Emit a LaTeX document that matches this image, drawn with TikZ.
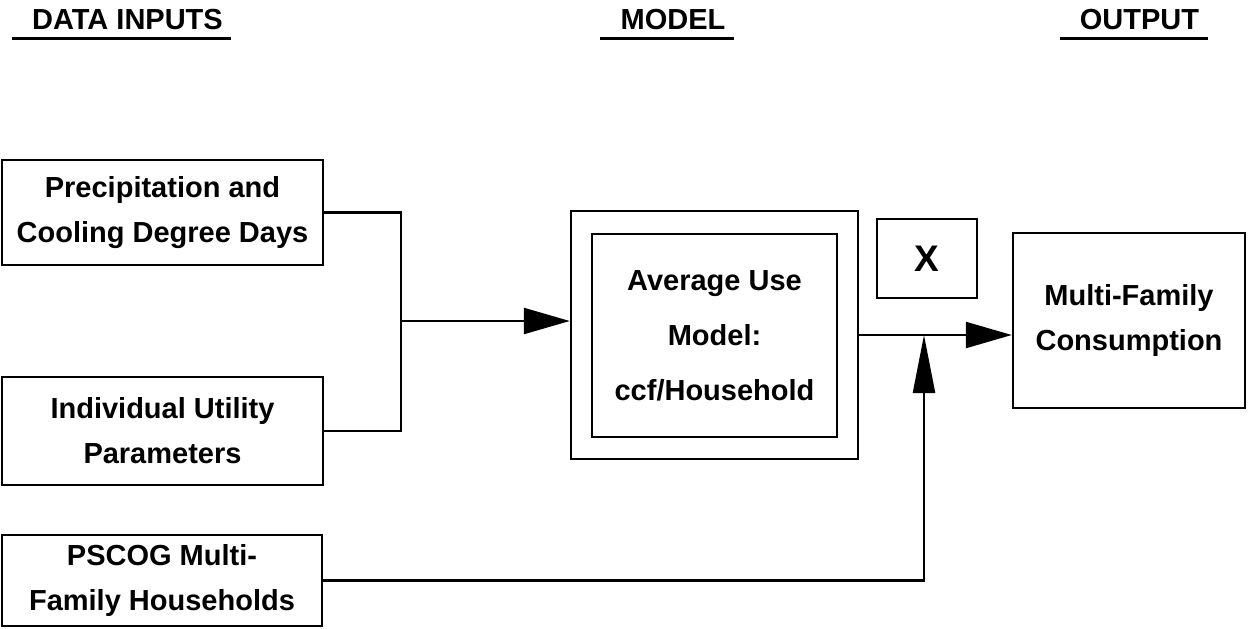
\documentclass[tikz,border=0pt]{standalone}
\usepackage{fontspec}
\setmainfont{Liberation Sans}
\usetikzlibrary{arrows.meta}
\tikzset{
  blk/.style={draw, line width=1.2pt, align=center, inner sep=0pt,
    font=\bfseries\fontsize{14.5}{22.5}\selectfont},
  head/.style={anchor=base, inner sep=1pt, font=\bfseries\fontsize{14.5}{17}\selectfont},
  flow/.style={line width=1.2pt},
  tip/.style={-{Triangle[length=23pt,width=13pt]}},
  tipv/.style={-{Triangle[length=29pt,width=11pt]}}
}
\begin{document}
\begin{tikzpicture}[x=0.5pt, y=-0.5pt]
  \useasboundingbox (0,0) rectangle (1249,628);
  % column headings
  \node[head] (hdata) at (127.5,29) {DATA INPUTS};
  \node[head] (hmodel) at (673,29) {MODEL};
  \node[head] (hout) at (1139.5,29) {OUTPUT};
  \foreach \h in {hdata,hmodel,hout}
    \draw [line width=1.5pt] ([xshift=-9pt,yshift=-4.5pt]\h.base west) -- ([xshift=3pt,yshift=-4.5pt]\h.base east);
  % data inputs
  \node[blk, minimum width=160.5pt, minimum height=52.5pt] (prec) at (162.5,212.5) {Precipitation and\\Cooling Degree Days};
  \node[blk, minimum width=160.5pt, minimum height=54pt] (util) at (162.5,431) {Individual Utility\\Parameters};
  \node[blk, minimum width=160pt, minimum height=45.5pt] (house) at (162,580.5) {PSCOG Multi-\\Family Households};
  % model
  \node[blk, minimum width=143.5pt, minimum height=124pt] (modelout) at (714.5,335) {};
  \node[blk, minimum width=122.5pt, minimum height=101.5pt, font=\bfseries\fontsize{14.5}{27.5}\selectfont] (model) at (714.5,335.5) {Average Use\\Model:\\ccf/Household};
  \node[blk, minimum width=50pt, minimum height=39.5pt, font=\bfseries\fontsize{18.5}{20}\selectfont] (times) at (927,258.5) {X};
  % output
  \node[blk, minimum width=116pt, minimum height=87.5pt] (outp) at (1129,320.5) {Multi-Family\\Consumption};
  % connectors
  \coordinate (jn) at (401,321);
  \coordinate (mx) at (924,335);
  \draw[flow] (prec.east) -| (jn) |- (util.east);
  \draw[flow, tip] (jn) -- (jn -| modelout.west);
  \draw[flow, tip] (modelout.east) -- (modelout.east -| outp.west);
  \draw[flow, tipv] (house.east) -| (mx);
\end{tikzpicture}
\end{document}
